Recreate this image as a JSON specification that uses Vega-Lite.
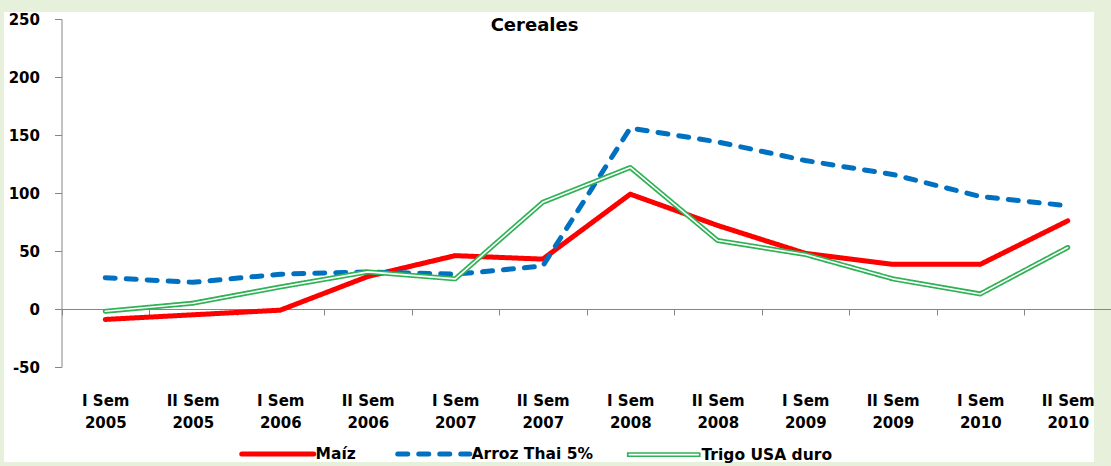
{
  "$schema": "https://vega.github.io/schema/vega-lite/v6.json",
  "width": 1090,
  "height": 450,
  "autosize": {"type": "none"},
  "padding": {"left": 4, "top": 12, "right": 17, "bottom": 4},
  "background": "#e6f0da",
  "config": {
    "view": {"fill": "#ffffff", "stroke": null},
    "font": "DejaVu Sans"
  },
  "title": {
    "text": "Cereales",
    "font": "DejaVu Sans",
    "fontSize": 18,
    "fontWeight": "bold",
    "color": "#000000",
    "anchor": "middle",
    "frame": "group",
    "offset": -18,
    "baseline": "alphabetic",
    "dx": -14.5,
    "dy": 19
  },
  "data": {
    "values": [
      {"periodo": "I Sem 2005", "serie": "Maíz", "valor": -9},
      {"periodo": "II Sem 2005", "serie": "Maíz", "valor": -5},
      {"periodo": "I Sem 2006", "serie": "Maíz", "valor": -1},
      {"periodo": "II Sem 2006", "serie": "Maíz", "valor": 28},
      {"periodo": "I Sem 2007", "serie": "Maíz", "valor": 46},
      {"periodo": "II Sem 2007", "serie": "Maíz", "valor": 43},
      {"periodo": "I Sem 2008", "serie": "Maíz", "valor": 99},
      {"periodo": "II Sem 2008", "serie": "Maíz", "valor": 72},
      {"periodo": "I Sem 2009", "serie": "Maíz", "valor": 48},
      {"periodo": "II Sem 2009", "serie": "Maíz", "valor": 38.5},
      {"periodo": "I Sem 2010", "serie": "Maíz", "valor": 38.5},
      {"periodo": "II Sem 2010", "serie": "Maíz", "valor": 76},
      {"periodo": "I Sem 2005", "serie": "Arroz Thai 5%", "valor": 27},
      {"periodo": "II Sem 2005", "serie": "Arroz Thai 5%", "valor": 23},
      {"periodo": "I Sem 2006", "serie": "Arroz Thai 5%", "valor": 30},
      {"periodo": "II Sem 2006", "serie": "Arroz Thai 5%", "valor": 32},
      {"periodo": "I Sem 2007", "serie": "Arroz Thai 5%", "valor": 30},
      {"periodo": "II Sem 2007", "serie": "Arroz Thai 5%", "valor": 37},
      {"periodo": "I Sem 2008", "serie": "Arroz Thai 5%", "valor": 156},
      {"periodo": "II Sem 2008", "serie": "Arroz Thai 5%", "valor": 144},
      {"periodo": "I Sem 2009", "serie": "Arroz Thai 5%", "valor": 128},
      {"periodo": "II Sem 2009", "serie": "Arroz Thai 5%", "valor": 116},
      {"periodo": "I Sem 2010", "serie": "Arroz Thai 5%", "valor": 97},
      {"periodo": "II Sem 2010", "serie": "Arroz Thai 5%", "valor": 89},
      {"periodo": "I Sem 2005", "serie": "Trigo USA duro", "valor": -2},
      {"periodo": "II Sem 2005", "serie": "Trigo USA duro", "valor": 5},
      {"periodo": "I Sem 2006", "serie": "Trigo USA duro", "valor": 19},
      {"periodo": "II Sem 2006", "serie": "Trigo USA duro", "valor": 32},
      {"periodo": "I Sem 2007", "serie": "Trigo USA duro", "valor": 26},
      {"periodo": "II Sem 2007", "serie": "Trigo USA duro", "valor": 92},
      {"periodo": "I Sem 2008", "serie": "Trigo USA duro", "valor": 122},
      {"periodo": "II Sem 2008", "serie": "Trigo USA duro", "valor": 59},
      {"periodo": "I Sem 2009", "serie": "Trigo USA duro", "valor": 47},
      {"periodo": "II Sem 2009", "serie": "Trigo USA duro", "valor": 26},
      {"periodo": "I Sem 2010", "serie": "Trigo USA duro", "valor": 13},
      {"periodo": "II Sem 2010", "serie": "Trigo USA duro", "valor": 53}
    ]
  },
  "encoding": {
    "x": {
      "field": "periodo",
      "type": "nominal",
      "scale": {
        "type": "band",
        "domain": ["I Sem 2005", "II Sem 2005", "I Sem 2006", "II Sem 2006", "I Sem 2007", "II Sem 2007", "I Sem 2008", "II Sem 2008", "I Sem 2009", "II Sem 2009", "I Sem 2010", "II Sem 2010"],
        "range": [57.5, 1107.5],
        "paddingInner": 0,
        "paddingOuter": 0
      },
      "axis": {
        "orient": "bottom",
        "offset": -153,
        "title": null,
        "domainColor": "#868686",
        "tickColor": "#868686",
        "tickSize": 6,
        "tickBand": "extent",
        "labelAngle": 0,
        "labelPadding": 78,
        "labelFont": "DejaVu Sans",
        "labelFontWeight": "bold",
        "labelFontSize": 15,
        "labelColor": "#000000",
        "labelLineHeight": 22,
        "labelOverlap": false,
        "labelBound": false,
        "labelExpr": "[substring(datum.label, 0, length(datum.label) - 5), substring(datum.label, length(datum.label) - 4)]",
        "grid": false
      }
    },
    "y": {
      "field": "valor",
      "type": "quantitative",
      "scale": {"domain": [-50, 250], "range": [355, 7], "nice": false, "zero": false},
      "axis": {
        "orient": "left",
        "offset": -57.5,
        "title": null,
        "values": [-50, 0, 50, 100, 150, 200, 250],
        "labelExpr": "datum.value < 0 ? '-' + abs(datum.value) : '' + datum.value",
        "domainColor": "#868686",
        "tickColor": "#868686",
        "tickSize": 7,
        "labelPadding": 15,
        "labelFont": "DejaVu Sans",
        "labelFontWeight": "bold",
        "labelFontSize": 15,
        "labelColor": "#000000",
        "grid": false
      }
    }
  },
  "layer": [
    {
      "mark": {"type": "line", "strokeWidth": 5, "strokeCap": "round", "strokeJoin": "round"},
      "encoding": {
        "color": {
          "field": "serie",
          "type": "nominal",
          "scale": {
            "domain": ["Maíz", "Arroz Thai 5%", "Trigo USA duro"],
            "range": ["#ff0000", "#0070c0", "#2fb155"]
          },
          "legend": {
            "title": null,
            "orient": "none",
            "legendX": 236,
            "legendY": 434,
            "direction": "horizontal",
            "padding": 0,
            "symbolType": "stroke",
            "symbolSize": 5184,
            "symbolStrokeWidth": 5,
            "symbolOffset": 30,
            "labelFont": "DejaVu Sans",
            "labelFontWeight": "bold",
            "labelFontSize": 15.5,
            "labelColor": "#000000",
            "columnPadding": 31,
            "labelOffset": 30,
            "encode": {
              "symbols": {
                "update": {
                  "shape": {"signal": "datum.value === 'Trigo USA duro' ? 'M-1,-0.045H1V0.045H-1Z' : 'stroke'"},
                  "fill": {"signal": "datum.value === 'Trigo USA duro' ? '#ffffff' : 'transparent'"},
                  "strokeWidth": {"signal": "datum.value === 'Trigo USA duro' ? 1.7 : 5"},
                  "strokeCap": {"value": "round"}
                }
              }
            }
          }
        },
        "strokeDash": {
          "field": "serie",
          "type": "nominal",
          "scale": {
            "domain": ["Maíz", "Arroz Thai 5%", "Trigo USA duro"],
            "range": [[1, 0], [10, 11], [1, 0]]
          }
        }
      }
    },
    {
      "transform": [{"filter": "datum.serie === 'Trigo USA duro'"}],
      "mark": {"type": "line", "strokeWidth": 1.6, "color": "#ffffff", "strokeCap": "round", "strokeJoin": "round"},
      "encoding": {}
    }
  ]
}
